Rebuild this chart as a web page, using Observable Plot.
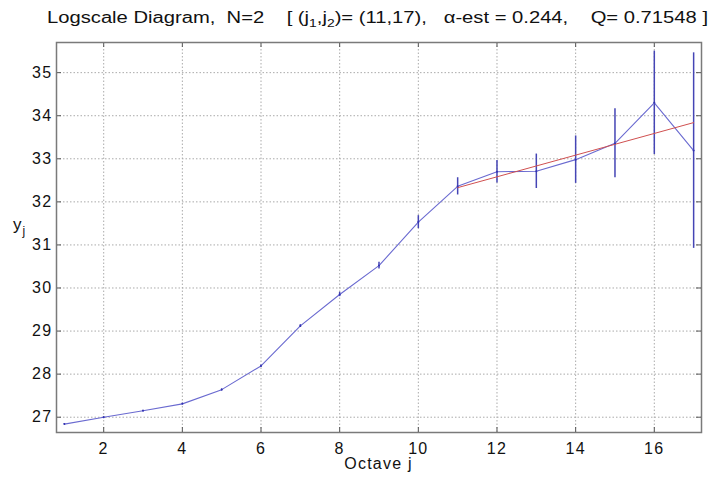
<!DOCTYPE html>
<html><head><meta charset="utf-8">
<script src="https://cdn.jsdelivr.net/npm/d3@7"></script>
<script src="https://cdn.jsdelivr.net/npm/@observablehq/plot@0.6"></script>
<style>
body{margin:0;background:#fff;}
#wrap{position:relative;width:712px;height:479px;font-family:"Liberation Sans",Arial,sans-serif;color:#111;}
#wrap svg{position:absolute;left:0;top:0;}
#title{position:absolute;left:47px;top:8px;font-size:16px;line-height:20px;white-space:pre;transform-origin:0 0;}
#title sub{font-size:11px;vertical-align:-4px;line-height:0;}
#ylab{position:absolute;left:13px;top:215px;font-size:17px;line-height:20px;letter-spacing:1px;}
#ylab sub{font-size:12px;vertical-align:-5px;line-height:0;}
#xlab{position:absolute;left:56px;width:645px;top:454px;text-align:center;font-size:16px;line-height:20px;letter-spacing:1.2px;}
</style>
</head><body>
<div id="wrap">
<div id="chart"></div>
<div id="title">Logscale Diagram,  N=2    [ (j<sub>1</sub>,j<sub>2</sub>)= (11,17),   α-est = 0.244,    Q= 0.71548 ]</div>
<div id="ylab">y<sub>j</sub></div>
<div id="xlab">Octave j</div>
</div>
<script>
const octaves = [1, 2, 3, 4, 5, 6, 7, 8, 9, 10, 11, 12, 13, 14, 15, 16, 17];
const yj = [26.84, 27.00, 27.15, 27.31, 27.64, 28.19, 29.12, 29.85, 30.52, 31.53, 32.36, 32.70, 32.71, 32.98, 33.36, 34.30, 33.19];
const halfInterval = [0.01, 0.01, 0.01, 0.015, 0.02, 0.02, 0.03, 0.05, 0.08, 0.15, 0.2, 0.26, 0.4, 0.55, 0.8, 1.2, 2.27];
const fitOctaves = [11, 17];
const fitY = [32.33, 33.84];
const xTicks = [2, 4, 6, 8, 10, 12, 14, 16];
const yTicks = [27, 28, 29, 30, 31, 32, 33, 34, 35];

const rows = octaves.map((j, i) => ({j, y: yj[i], e: halfInterval[i]}));
const fitRows = fitOctaves.map((j, i) => ({j, y: fitY[i]}));

const W = 712, H = 479;
const mL = 56, mR = 11, mT = 42, mB = 47;
const innerW = W - mL - mR, innerH = H - mT - mB;
const tickLen = 5;

const chart = Plot.plot({
  width: W, height: H,
  marginLeft: mL, marginRight: mR, marginTop: mT, marginBottom: mB,
  style: {fontFamily: '"Liberation Sans", Arial, sans-serif', fontSize: "16px", color: "#111", background: "#fff", letterSpacing: "1.3px"},
  x: {domain: [0.8, 17.2], label: null},
  y: {domain: [26.645, 35.70], label: null},
  marks: [
    Plot.gridX(xTicks, {stroke: "#aaa", strokeOpacity: 1, strokeDasharray: "1.5,2"}),
    Plot.gridY(yTicks, {stroke: "#aaa", strokeOpacity: 1, strokeDasharray: "1.5,2"}),
    Plot.tickY(yTicks, {y: d => d, insetRight: innerW - tickLen, stroke: "#555"}),
    Plot.tickY(yTicks, {y: d => d, insetLeft: innerW - tickLen, stroke: "#555"}),
    Plot.tickX(xTicks, {x: d => d, insetTop: innerH - tickLen, stroke: "#555"}),
    Plot.tickX(xTicks, {x: d => d, insetBottom: innerH - tickLen, stroke: "#555"}),
    Plot.frame({stroke: "#7a7a7a", strokeWidth: 1.5}),
    Plot.axisY(yTicks, {anchor: "left", tickSize: 0, tickPadding: 4, label: null, fontSize: 16}),
    Plot.axisX(xTicks, {anchor: "bottom", tickSize: 0, tickPadding: 10, label: null, fontSize: 16}),
    Plot.ruleX(rows, {x: "j", y1: d => d.y - d.e, y2: d => d.y + d.e, stroke: "#4545b5", strokeWidth: 1.5}),
    Plot.line(rows, {x: "j", y: "y", stroke: "#6a6ad0", strokeWidth: 1.1}),
    Plot.line(fitRows, {x: "j", y: "y", stroke: "#d05050", strokeWidth: 1}),
    Plot.dot(rows, {x: "j", y: "y", r: 1, fill: "#3030b0"})
  ]
});
document.getElementById("chart").appendChild(chart);

const t = document.getElementById("title");
const w = t.getBoundingClientRect().width;
t.style.transform = `scaleX(${661 / w})`;
</script>
</body></html>
